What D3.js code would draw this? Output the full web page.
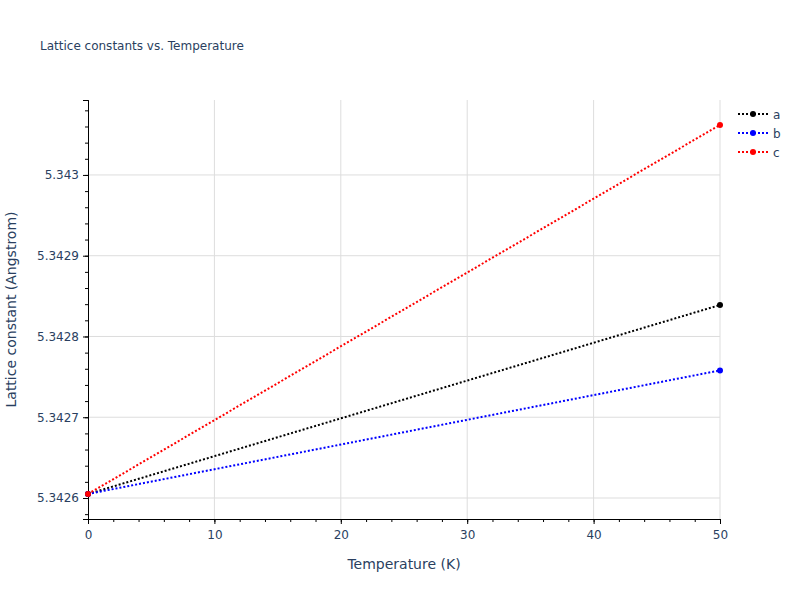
<html>
<head>
<style>
  body { margin: 0; background: #fff; }
  text { font-family: "DejaVu Sans", verdana, arial, sans-serif; fill: #2a3f5f; }
</style>
</head>
<body>
  <div id = 'chart'></div>
  <script src = 'https://d3js.org/d3.v7.min.js'></script>
  <script>
    var temps = [0, 50],
        aVals = [5.342605, 5.342839],
        bVals = [5.342605, 5.342758],
        cVals = [5.342605, 5.343062],
        seriesNames = ['a', 'b', 'c'],
        seriesColors = ['#000000', '#0000ff', '#ff0000'],
        xTicks = [0, 10, 20, 30, 40, 50],
        yTicks = [5.3426, 5.3427, 5.3428, 5.3429, 5.343];

    (function(){
      var width = 800, height = 600,
          plotLeft = 88, plotRight = 720, plotTop = 100, plotBottom = 519;

      var svg = d3.select('#chart').append('svg')
        .attr('width', width)
        .attr('height', height);

      var x = d3.scaleLinear().domain([0, 50]).range([plotLeft, plotRight]);
      var y = d3.scaleLinear().domain([5.342574, 5.3430928]).range([plotBottom, plotTop]);

      // grid
      svg.append('g').selectAll('line')
        .data(xTicks.slice(1))
        .enter().append('line')
        .attr('x1', function(d){ return x(d); })
        .attr('x2', function(d){ return x(d); })
        .attr('y1', plotTop).attr('y2', plotBottom)
        .attr('stroke', '#dddddd').attr('stroke-width', 1);

      svg.append('g').selectAll('line')
        .data(yTicks)
        .enter().append('line')
        .attr('x1', plotLeft).attr('x2', plotRight)
        .attr('y1', function(d){ return y(d); })
        .attr('y2', function(d){ return y(d); })
        .attr('stroke', '#dddddd').attr('stroke-width', 1);

      // minor ticks
      var xMinor = d3.range(0, 50.01, 2);
      var yMinor = d3.range(0, 26).map(function(i){ return 5.34258 + i * 0.00002; });

      var xAxis = d3.axisBottom(x).tickValues(xTicks).tickSize(5).tickPadding(6).tickFormat(d3.format('d'));
      var xAxisMinor = d3.axisBottom(x).tickValues(xMinor).tickSize(3).tickFormat('');
      var yAxis = d3.axisLeft(y).tickValues(yTicks).tickSize(5).tickPadding(4)
        .tickFormat(function(d){ return (+d.toFixed(4)).toString(); });
      var yAxisMinor = d3.axisLeft(y).tickValues(yMinor).tickSize(3).tickFormat('');

      function styleAxis(g) {
        g.select('.domain').attr('stroke', '#000').attr('stroke-width', 1);
        g.selectAll('.tick line').attr('stroke', '#000');
        g.selectAll('.tick text').attr('font-size', 12).style('fill', '#2a3f5f');
      }

      svg.append('g').attr('transform', 'translate(0,' + plotBottom + ')').call(xAxisMinor).call(styleAxis);
      svg.append('g').attr('transform', 'translate(0,' + plotBottom + ')').call(xAxis).call(styleAxis);
      svg.append('g').attr('transform', 'translate(' + plotLeft + ',0)').call(yAxisMinor).call(styleAxis);
      svg.append('g').attr('transform', 'translate(' + plotLeft + ',0)').call(yAxis).call(styleAxis);

      // lines
      var allSeries = [aVals, bVals, cVals];
      var line = d3.line()
        .x(function(d, i){ return x(temps[i]); })
        .y(function(d){ return y(d); });

      allSeries.forEach(function(vals, k){
        svg.append('path')
          .attr('d', line(vals))
          .attr('fill', 'none')
          .attr('stroke', seriesColors[k])
          .attr('stroke-width', 2)
          .attr('stroke-dasharray', '2,2');
        svg.append('g').selectAll('circle')
          .data(vals)
          .enter().append('circle')
          .attr('cx', function(d, i){ return x(temps[i]); })
          .attr('cy', function(d){ return y(d); })
          .attr('r', 3)
          .attr('fill', seriesColors[k]);
      });

      // titles
      svg.append('text').attr('x', 40).attr('y', 50).attr('font-size', 12)
        .text('Lattice constants vs. Temperature');
      svg.append('text').attr('x', (plotLeft + plotRight) / 2).attr('y', 569)
        .attr('text-anchor', 'middle').attr('font-size', 14)
        .text('Temperature (K)');
      svg.append('text')
        .attr('transform', 'translate(16,' + ((plotTop + plotBottom) / 2) + ') rotate(-90)')
        .attr('text-anchor', 'middle').attr('font-size', 14)
        .text('Lattice constant (Angstrom)');

      // legend
      var legend = svg.append('g').attr('transform', 'translate(738,114)');
      seriesNames.forEach(function(name, k){
        var g = legend.append('g').attr('transform', 'translate(0,' + (k * 19) + ')');
        g.append('line').attr('x1', 0).attr('x2', 30).attr('y1', 0).attr('y2', 0)
          .attr('stroke', seriesColors[k]).attr('stroke-width', 2).attr('stroke-dasharray', '2,2');
        g.append('circle').attr('cx', 15).attr('cy', 0).attr('r', 3).attr('fill', seriesColors[k]);
        g.append('text').attr('x', 35).attr('y', 4.5).attr('font-size', 12).text(name);
      });
    })();
  </script>
</body>
</html>
